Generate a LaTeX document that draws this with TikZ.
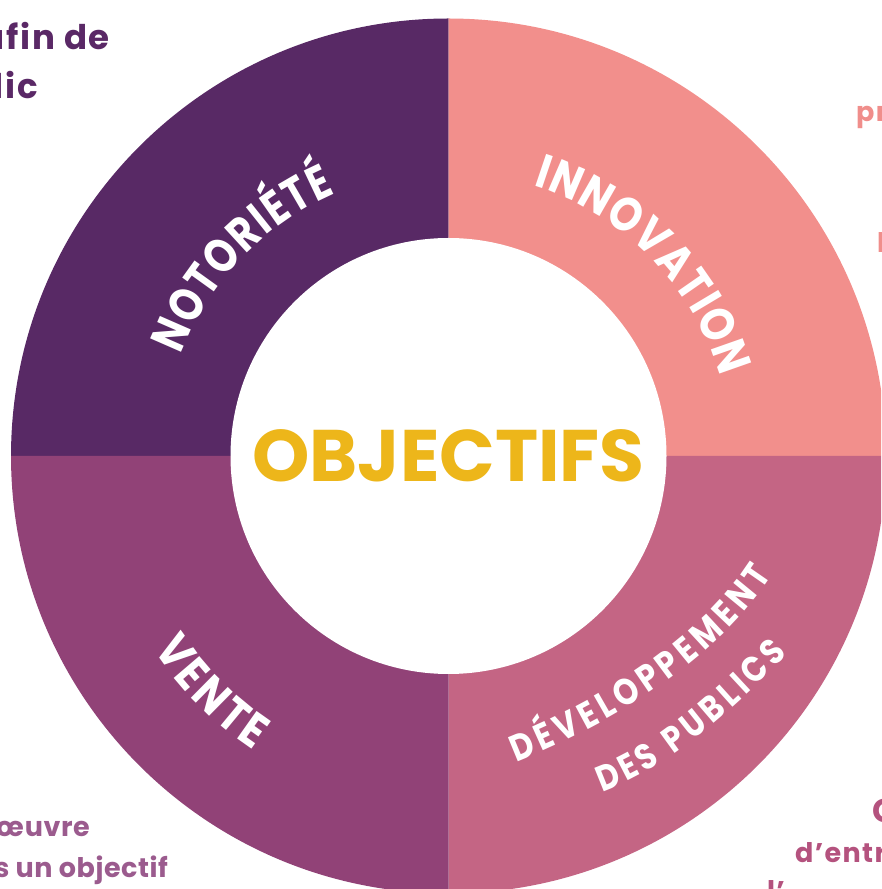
\documentclass[tikz,border=0pt]{standalone}
\usepackage{fontspec}
\usetikzlibrary{decorations.text,calc}
\newfontfamily\pop{Poppins}
\newfontfamily\poplab{Poppins}[FakeStretch=0.85]
\newfontfamily\poplabn{Poppins}[FakeStretch=0.81]
\newfontfamily\popside{Poppins}[LetterSpace=5]
\newfontfamily\popsidet{Poppins}[LetterSpace=2]
\definecolor{cNot}{HTML}{582965}
\definecolor{cInn}{HTML}{F28F8C}
\definecolor{cDev}{HTML}{C46584}
\definecolor{cVen}{HTML}{914277}
\definecolor{cObj}{HTML}{EDB61A}
\definecolor{cTL}{HTML}{5A2866}
\definecolor{cBL}{HTML}{9B5B8E}
\definecolor{cTR}{HTML}{F08E8B}
\definecolor{cBR}{HTML}{B4527E}
\tikzset{
  sidetext/.style={inner sep=0pt, font=\popside\bfseries\fontsize{27}{27}\selectfont},
  bltext/.style={inner sep=0pt, font=\popsidet\bfseries\fontsize{27}{27}\selectfont},
  bigside/.style={inner sep=0pt, font=\popside\bfseries\fontsize{34}{34}\selectfont},
}
\begin{document}
\begin{tikzpicture}[x=1pt,y=1pt]
\useasboundingbox (0,0) rectangle (881,889);
\clip (0,0) rectangle (881,889);
\coordinate (C) at (448.5,433);
% quadrants
\fill[cNot] (C) -- ([shift={(90:437.5)}]C) arc[start angle=90,end angle=180,radius=437.5] -- cycle;
\fill[cInn] (C) -- ([shift={(0:437.5)}]C) arc[start angle=0,end angle=90,radius=437.5] -- cycle;
\fill[cDev] (C) -- ([shift={(270:437.5)}]C) arc[start angle=270,end angle=360,radius=437.5] -- cycle;
\fill[cVen] (C) -- ([shift={(180:437.5)}]C) arc[start angle=180,end angle=270,radius=437.5] -- cycle;
\fill[white] (C) circle[radius=218];
% centre title
\node[inner sep=0pt, text=cObj, font=\pop\bfseries\fontsize{73}{73}\selectfont] (obj) at (C) {OBJECTIFS};
% curved labels
\path[decorate, decoration={text along path, text align={fit to path}, text color=white,
  text={|\poplabn\bfseries\fontsize{48}{48}\selectfont|NOTORIÉTÉ}}]
  ([shift={(159.3:286)}]C) arc[start angle=159.3,end angle=113.3,radius=286];
\path[decorate, decoration={text along path, text align={fit to path}, text color=white,
  text={|\poplab\bfseries\fontsize{48}{48}\selectfont|INNOVATION}}]
  ([shift={(72.6:283)}]C) arc[start angle=72.6,end angle=16.3,radius=283];
\path[decorate, decoration={text along path, text align={fit to path}, text color=white,
  text={|\poplab\bfseries\fontsize{48}{48}\selectfont|VENTE}}]
  ([shift={(213.3:353)}]C) arc[start angle=213.3,end angle=236.5,radius=353];
\path[decorate, decoration={text along path, text align={fit to path}, text color=white,
  text={|\poplab\bfseries\fontsize{37}{37}\selectfont|DÉVELOPPEMENT}}]
  (516,127) .. controls (610,164) and (717,229) .. (772,314);
\path[decorate, decoration={text along path, text align={fit to path}, text color=white,
  text={|\poplab\bfseries\fontsize{36}{36}\selectfont|DES PUBLICS}}]
  (602,97) .. controls (669,120) and (737.5,184.5) .. (788,235);
% cut-off side texts
\node[bigside, text=cTL, anchor=base east] (tl1) at (110,839) {afin de};
\node[bigside, text=cTL, anchor=base east] (tl2) at (38,790) {lic};
\node[bltext, text=cBL, anchor=base east] (bl1) at (90,52) {œuvre};
\node[bltext, text=cBL, anchor=base east] (bl2) at (168,12) {s un objectif};
\node[sidetext, text=cTR, anchor=base west] (tr1) at (856,767) {pr};
\node[sidetext, text=cTR, anchor=base west] (tr2) at (877,636) {l};
\node[sidetext, text=cBR, anchor=base west, font=\popside\bfseries\fontsize{33}{33}\selectfont] (br1) at (872,66) {C};
\node[sidetext, text=cBR, anchor=base west] (br2) at (795,26) {d’entr};
\node[sidetext, text=cBR, anchor=base west] (br3) at (767,-12) {l’};
\end{tikzpicture}
\end{document}
